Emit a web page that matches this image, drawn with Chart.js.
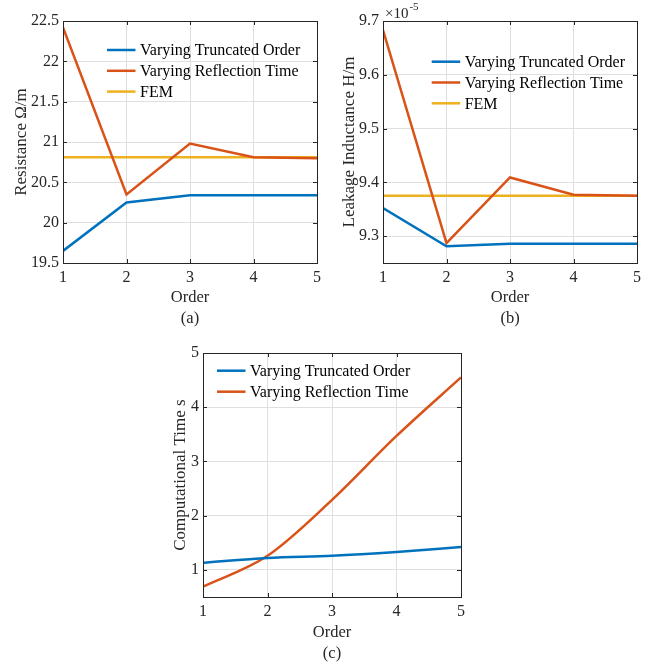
<!DOCTYPE html>
<html>
<head>
<meta charset="utf-8">
<script src="https://cdn.jsdelivr.net/npm/chart.js@4.4.1/dist/chart.umd.min.js"></script>
<style>
  html, body { margin: 0; padding: 0; background: #fff; }
  #wrap { position: relative; width: 667px; height: 664px; }
  #wrap canvas { position: absolute; left: 0; top: 0; }
</style>
</head>
<body>
<div id="wrap">
  <canvas id="chart-a" width="667" height="664"></canvas>
  <canvas id="chart-b" width="667" height="664"></canvas>
  <canvas id="chart-c" width="667" height="664"></canvas>
</div>
<script>
const orders = [1, 2, 3, 4, 5];
const orderTicks = [1, 2, 3, 4, 5];

// (a) resistance, ohm/m
const resTruncated = [19.65, 20.25, 20.34, 20.34, 20.34];
const resReflection = [22.42, 20.35, 20.98, 20.81, 20.80];
const resFem = [20.81, 20.81, 20.81, 20.81, 20.81];
const resTicks = [19.5, 20, 20.5, 21, 21.5, 22, 22.5];

// (b) leakage inductance, in units of 1e-5 H/m
const indTruncated = [9.352, 9.281, 9.286, 9.286, 9.286];
const indReflection = [9.683, 9.287, 9.409, 9.377, 9.375];
const indFem = [9.375, 9.375, 9.375, 9.375, 9.375];
const indTicks = [9.3, 9.4, 9.5, 9.6, 9.7];

// (c) computational time, s
const timeTruncated = [1.13, 1.22, 1.26, 1.33, 1.42];
const timeReflection = [0.69, 1.26, 2.29, 3.47, 4.55];
const timeTicks = [1, 2, 3, 4, 5];

const BLUE = '#0072BD';
const ORANGE = '#D95319';
const YELLOW = '#EDB120';
const AXIS = '#262626';
const GRID = '#dfdfdf';
const SERIF = '"Liberation Serif", "Times New Roman", serif';

function series(label, values, color, smooth) {
    return {
        label: label,
        data: orders.map((x, i) => ({ x: x, y: values[i] })),
        borderColor: color,
        backgroundColor: color,
        borderWidth: 2.5,
        pointRadius: 0,
        cubicInterpolationMode: smooth ? 'monotone' : 'default',
        tension: 0
    };
}

// box, inward ticks, legend inside the axes, exponent label
const matlabLook = {
    id: 'matlabLook',
    afterDraw(chart, args, opts) {
        const ctx = chart.ctx;
        const a = chart.chartArea;
        const xs = chart.scales.x;
        const ys = chart.scales.y;
        ctx.save();
        ctx.strokeStyle = AXIS;
        ctx.lineWidth = 1;
        ctx.strokeRect(Math.round(a.left) + 0.5, Math.round(a.top) + 0.5,
            Math.round(a.right - a.left), Math.round(a.bottom - a.top));

        const tl = 4;
        ctx.beginPath();
        xs.ticks.forEach(t => {
            const px = Math.round(xs.getPixelForValue(t.value)) + 0.5;
            ctx.moveTo(px, a.bottom); ctx.lineTo(px, a.bottom - tl);
            ctx.moveTo(px, a.top); ctx.lineTo(px, a.top + tl);
        });
        ys.ticks.forEach(t => {
            const py = Math.round(ys.getPixelForValue(t.value)) + 0.5;
            ctx.moveTo(a.left, py); ctx.lineTo(a.left + tl, py);
            ctx.moveTo(a.right, py); ctx.lineTo(a.right - tl, py);
        });
        ctx.stroke();

        // legend
        const lg = opts.legend;
        ctx.font = '16px ' + SERIF;
        ctx.textBaseline = 'middle';
        ctx.textAlign = 'left';
        chart.data.datasets.forEach((ds, i) => {
            const x0 = a.left + lg.dx;
            const y0 = a.top + lg.dy + i * lg.rowH;
            ctx.strokeStyle = ds.borderColor;
            ctx.lineWidth = 2.5;
            ctx.beginPath();
            ctx.moveTo(x0, y0); ctx.lineTo(x0 + 28.5, y0);
            ctx.stroke();
            ctx.fillStyle = '#000';
            ctx.fillText(ds.label, x0 + 33, y0 + 1);
        });

        if (opts.exponent) {
            ctx.fillStyle = AXIS;
            ctx.textBaseline = 'alphabetic';
            ctx.font = '15px ' + SERIF;
            ctx.fillText('\u00d710', a.left + 2, a.top - 3);
            const w = ctx.measureText('\u00d710').width;
            ctx.font = '11px ' + SERIF;
            ctx.fillText(opts.exponent, a.left + 3 + w, a.top - 11);
        }
        ctx.restore();
    }
};

function makeChart(id, cfg) {
    const tickFont = { family: SERIF, size: 16 };
    const fmt = v => String(+(+v).toFixed(3));
    return new Chart(document.getElementById(id), {
        type: 'line',
        data: { datasets: cfg.datasets },
        options: {
            responsive: false,
            animation: false,
            layout: { padding: cfg.pad },
            plugins: {
                legend: { display: false },
                tooltip: { enabled: false },
                matlabLook: { legend: cfg.legend, exponent: cfg.exponent }
            },
            scales: {
                x: {
                    type: 'linear',
                    min: 1,
                    max: 5,
                    afterBuildTicks: s => { s.ticks = orderTicks.map(v => ({ value: v })); },
                    afterFit: s => { s.height = cfg.xHeight; },
                    grid: { color: GRID, drawTicks: false },
                    border: { display: false },
                    ticks: { font: tickFont, color: AXIS, padding: 5, maxRotation: 0, callback: fmt },
                    title: {
                        display: true,
                        text: ['Order', cfg.caption],
                        color: AXIS,
                        font: { family: SERIF, size: 16.5, lineHeight: 1.26 },
                        padding: { top: 0, bottom: cfg.captionPad }
                    }
                },
                y: {
                    min: cfg.yMin,
                    max: cfg.yMax,
                    afterBuildTicks: s => { s.ticks = cfg.yTicks.map(v => ({ value: v })); },
                    afterFit: s => { s.width = cfg.yWidth; },
                    grid: { color: GRID, drawTicks: false },
                    border: { display: false },
                    ticks: { font: tickFont, color: AXIS, padding: 4, callback: fmt },
                    title: {
                        display: true,
                        text: cfg.yTitle,
                        color: AXIS,
                        font: { family: SERIF, size: 17 },
                        padding: 0
                    }
                }
            }
        },
        plugins: [matlabLook]
    });
}

makeChart('chart-a', {
    datasets: [
        series('Varying Truncated Order', resTruncated, BLUE),
        series('Varying Reflection Time', resReflection, ORANGE),
        series('FEM', resFem, YELLOW)
    ],
    pad: { left: 11, top: 21, right: 350, bottom: 331 },
    yWidth: 52, xHeight: 70, captionPad: 4,
    yMin: 19.5, yMax: 22.5, yTicks: resTicks,
    yTitle: 'Resistance \u03a9/m', caption: '(a)',
    legend: { dx: 44, dy: 29, rowH: 20.8 }
});

makeChart('chart-b', {
    datasets: [
        series('Varying Truncated Order', indTruncated, BLUE),
        series('Varying Reflection Time', indReflection, ORANGE),
        series('FEM', indFem, YELLOW)
    ],
    pad: { left: 339, top: 21, right: 30, bottom: 331 },
    yWidth: 44, xHeight: 70, captionPad: 4,
    yMin: 9.25, yMax: 9.7, yTicks: indTicks,
    yTitle: 'Leakage Inductance H/m', caption: '(b)',
    legend: { dx: 48.7, dy: 40.7, rowH: 20.8 },
    exponent: '-5'
});

makeChart('chart-c', {
    datasets: [
        series('Varying Truncated Order', timeTruncated, BLUE, true),
        series('Varying Reflection Time', timeReflection, ORANGE, true)
    ],
    pad: { left: 170, top: 353, right: 206, bottom: 0 },
    yWidth: 33, xHeight: 67, captionPad: 0,
    yMin: 0.5, yMax: 5, yTicks: timeTicks,
    yTitle: 'Computational Time s', caption: '(c)',
    legend: { dx: 14, dy: 17.7, rowH: 21 }
});
</script>
</body>
</html>
